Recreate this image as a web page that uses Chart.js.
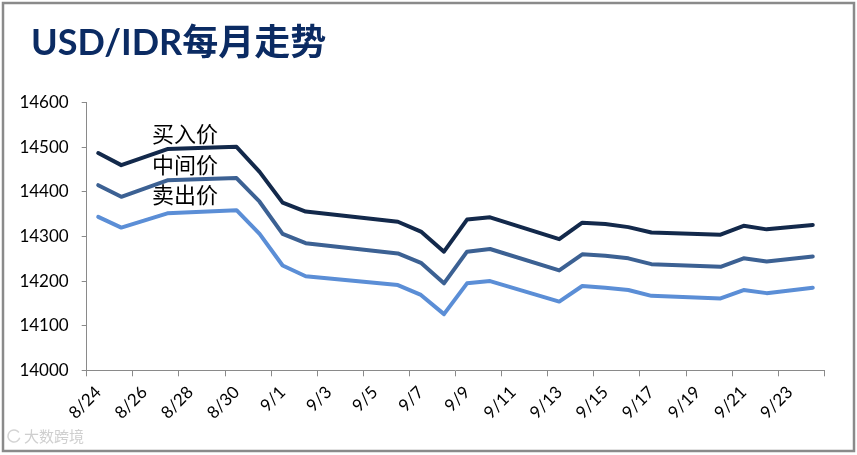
<!DOCTYPE html>
<html>
<head>
<meta charset="utf-8">
<script src="https://cdn.jsdelivr.net/npm/chart.js@4.4.1/dist/chart.umd.min.js"></script>
<style>
    html, body { margin: 0; padding: 0; background: #fff; }
    #wrap { position: relative; width: 857px; height: 455px; }
</style>
</head>
<body>
<div id="wrap"><canvas id="chart-usd-idr" width="857" height="455"></canvas></div>
<script>
/* ---- Data ---- */
const DATES = ['8/24','8/25','8/26','8/27','8/28','8/29','8/30','8/31',
    '9/1','9/2','9/3','9/4','9/5','9/6','9/7','9/8','9/9','9/10','9/11','9/12',
    '9/13','9/14','9/15','9/16','9/17','9/18','9/19','9/20','9/21','9/22','9/23','9/24'];
const BUY  = [14487,14460,null,14496,null,null,14501,14445,14376,14356,null,null,null,14333,14311,14266,14338,14343,null,null,14294,14331,14328,14321,14309,null,null,14304,14324,14316,null,14326];
const MID  = [14415,14389,null,14426,null,null,14431,14378,14306,14285,null,null,null,14262,14241,14195,14266,14272,null,null,14224,14260,14257,14251,14238,null,null,14232,14251,14244,null,14255];
const SELL = [14344,14320,null,14352,null,null,14359,14306,14235,14211,null,null,null,14191,14169,14126,14195,14200,null,null,14154,14189,14185,14180,14167,null,null,14161,14180,14173,null,14185];
const SERIES_NAMES = ['买入价','中间价','卖出价'];
const Y_MIN = 14000, Y_MAX = 14600, Y_STEP = 100;

const TITLE = 'USD/IDR每月走势';
const LINE_COLORS = ['#13294B','#3C6193','#5B8ED6'];
const AXIS_GRAY = '#8a8a8a';

/* ---- Decorations: title, series labels, frame, watermark ---- */
const decorPlugin = {
    id: 'decor',
    afterDraw(chart) {
        const ctx = chart.ctx;
        ctx.save();
        ctx.fillStyle = '#0B2B63';
        ctx.font = 'bold 36px Lato, "Noto Sans CJK SC"';
        ctx.textBaseline = 'alphabetic';
        ctx.fillText(TITLE, 31, 55);

        ctx.fillStyle = '#000';
        ctx.font = '22px "Noto Sans CJK SC"';
        ctx.textBaseline = 'middle';
        [134, 165, 195].forEach((y, i) => ctx.fillText(SERIES_NAMES[i], 152, y));

        ctx.fillStyle = '#cfcfcf';
        ctx.font = '15px "Noto Sans CJK SC"';
        ctx.fillText('大数跨境', 24, 436);
        ctx.strokeStyle = '#d4d4d4'; ctx.lineWidth = 1.5;
        ctx.beginPath(); ctx.arc(14, 436, 6, 0.3, Math.PI * 1.8); ctx.stroke();

        ctx.strokeStyle = AXIS_GRAY; ctx.lineWidth = 2.5;
        ctx.strokeRect(3, 3, 851, 448);
        ctx.restore();
    }
};

function makeDataset(label, data, color) {
    return { label, data, borderColor: color, backgroundColor: color, borderWidth: 4,
             pointRadius: 0, tension: 0, spanGaps: true, borderJoinStyle: 'round', borderCapStyle: 'round' };
}

new Chart(document.getElementById('chart-usd-idr').getContext('2d'), {
    type: 'line',
    data: {
        labels: DATES,
        datasets: [
            makeDataset(SERIES_NAMES[0], BUY, LINE_COLORS[0]),
            makeDataset(SERIES_NAMES[1], MID, LINE_COLORS[1]),
            makeDataset(SERIES_NAMES[2], SELL, LINE_COLORS[2]),
        ]
    },
    options: {
        responsive: false, animation: false, devicePixelRatio: 1,
        layout: { padding: { left: 14, right: 32.7, top: 102.7, bottom: 8 } },
        plugins: { legend: { display: false }, tooltip: { enabled: false }, title: { display: false } },
        scales: {
            x: {
                type: 'category', offset: true,
                afterFit: s => { s.height = 455 - 8 - 370.3; },
                border: { display: true, color: AXIS_GRAY, width: 1 },
                grid: { offset: true, drawOnChartArea: false, drawTicks: true, tickLength: 6,
                        color: c => (c.index === undefined || c.index % 2 === 0) ? AXIS_GRAY : 'rgba(0,0,0,0)' },
                ticks: { autoSkip: false, maxRotation: 45, minRotation: 45, padding: 6, color: '#000',
                         font: { family: 'Lato', size: 17 },
                         callback: (v, i) => i % 2 === 0 ? DATES[i] : '' }
            },
            y: {
                min: Y_MIN, max: Y_MAX,
                afterFit: s => { s.width = 86.7 - 14; },
                border: { display: true, color: AXIS_GRAY, width: 1 },
                grid: { drawOnChartArea: false, drawTicks: true, tickLength: 5, color: AXIS_GRAY },
                ticks: { stepSize: Y_STEP, padding: 13, color: '#000', font: { family: 'Lato', size: 17 },
                         callback: v => String(v) }
            }
        }
    },
    plugins: [decorPlugin]
});
</script>
</body>
</html>
